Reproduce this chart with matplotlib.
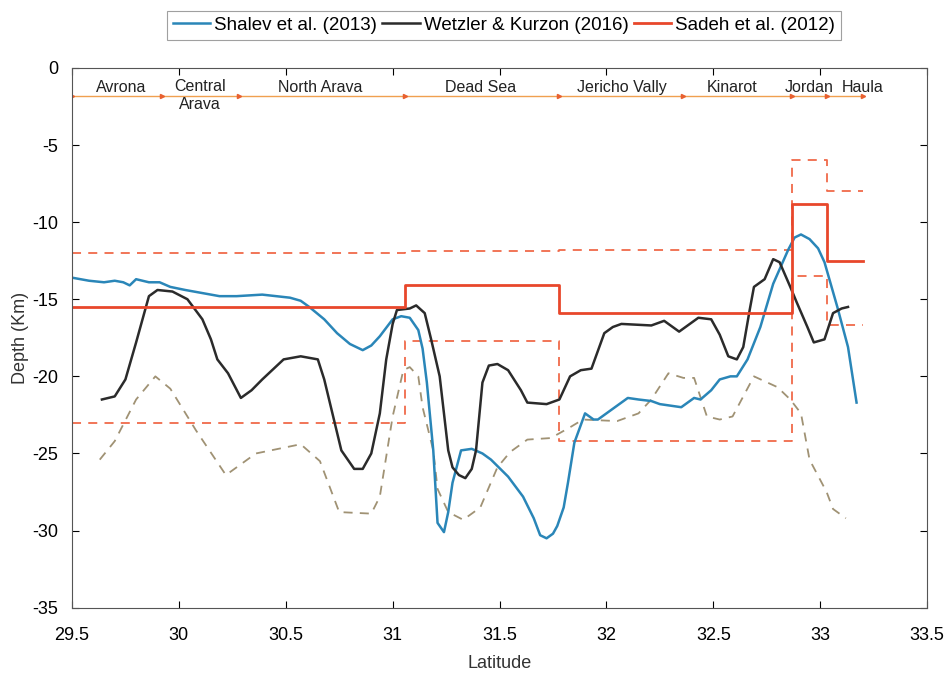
import matplotlib
matplotlib.use("Agg")
import matplotlib.pyplot as plt
import numpy as np

# ---------------- data ----------------
shalev_lat = [29.50, 29.58, 29.65, 29.70, 29.74, 29.77, 29.80, 29.86, 29.91, 29.96, 30.03, 30.11,
              30.19, 30.27, 30.39, 30.52, 30.57, 30.61, 30.68, 30.74, 30.80, 30.86, 30.90, 30.94,
              31.00, 31.04, 31.08, 31.12, 31.14, 31.16, 31.19, 31.21, 31.24, 31.26, 31.28, 31.32,
              31.37, 31.42, 31.46, 31.54, 31.61, 31.66, 31.69, 31.72, 31.75, 31.77, 31.80, 31.82,
              31.85, 31.90, 31.94, 31.96, 32.03, 32.10, 32.15, 32.21, 32.25, 32.35, 32.41, 32.44,
              32.49, 32.53, 32.58, 32.61, 32.66, 32.72, 32.78, 32.85, 32.88, 32.91, 32.95, 32.99,
              33.02, 33.08, 33.13, 33.17]
shalev_dep = [-13.6, -13.8, -13.9, -13.8, -13.9, -14.1, -13.7, -13.9, -13.9, -14.2, -14.4, -14.6,
              -14.8, -14.8, -14.7, -14.9, -15.1, -15.5, -16.3, -17.2, -17.9, -18.3, -18.0, -17.4,
              -16.3, -16.1, -16.2, -17.0, -18.2, -20.4, -24.8, -29.5, -30.1, -28.8, -26.9, -24.8,
              -24.7, -25.0, -25.4, -26.5, -27.8, -29.2, -30.3, -30.5, -30.2, -29.7, -28.5, -26.9,
              -24.3, -22.4, -22.8, -22.8, -22.1, -21.4, -21.5, -21.6, -21.8, -22.0, -21.4, -21.5,
              -20.9, -20.2, -20.0, -20.0, -18.9, -16.8, -14.0, -11.8, -11.0, -10.8, -11.1, -11.7,
              -12.6, -15.5, -18.1, -21.7]

wetzler_lat = [29.64, 29.70, 29.75, 29.80, 29.84, 29.86, 29.90, 29.97, 30.04, 30.11, 30.15, 30.18,
               30.23, 30.29, 30.34, 30.39, 30.49, 30.57, 30.65, 30.68, 30.72, 30.76, 30.82, 30.86,
               30.90, 30.94, 30.97, 31.00, 31.02, 31.08, 31.11, 31.15, 31.18, 31.22, 31.26, 31.28,
               31.31, 31.34, 31.37, 31.39, 31.42, 31.45, 31.49, 31.54, 31.60, 31.63, 31.72, 31.78,
               31.83, 31.88, 31.93, 31.99, 32.03, 32.07, 32.21, 32.27, 32.34, 32.43, 32.49, 32.53,
               32.57, 32.61, 32.64, 32.67, 32.69, 32.74, 32.78, 32.81, 32.86, 32.89, 32.94, 32.97,
               33.02, 33.06, 33.10, 33.13]
wetzler_dep = [-21.5, -21.3, -20.2, -17.8, -15.8, -14.8, -14.4, -14.5, -15.0, -16.3, -17.6, -18.9,
               -19.8, -21.4, -20.9, -20.2, -18.9, -18.7, -18.9, -20.2, -22.5, -24.8, -26.0, -26.0,
               -25.0, -22.4, -18.9, -16.6, -15.7, -15.6, -15.4, -15.9, -17.6, -20.0, -24.8, -25.9,
               -26.4, -26.6, -26.0, -24.8, -20.4, -19.3, -19.2, -19.6, -20.9, -21.7, -21.8, -21.5,
               -20.0, -19.6, -19.5, -17.2, -16.8, -16.6, -16.7, -16.4, -17.1, -16.2, -16.3, -17.3,
               -18.7, -18.9, -18.1, -15.7, -14.2, -13.7, -12.4, -12.6, -14.2, -15.2, -16.8, -17.8,
               -17.6, -15.9, -15.6, -15.5]

wetzler_err_lat = [29.63, 29.70, 29.80, 29.89, 29.96, 30.08, 30.22, 30.36, 30.57, 30.66, 30.75,
                   30.90, 30.94, 31.00, 31.05, 31.08, 31.12, 31.14, 31.19, 31.21, 31.26, 31.33,
                   31.41, 31.49, 31.55, 31.63, 31.74, 31.83, 31.89, 32.05, 32.15, 32.21, 32.29,
                   32.36, 32.41, 32.47, 32.53, 32.59, 32.69, 32.80, 32.86, 32.91, 32.95, 33.03,
                   33.06, 33.12]
wetzler_err_dep = [-25.4, -24.2, -21.5, -20.0, -20.8, -23.5, -26.4, -25.0, -24.4, -25.5, -28.8,
                   -28.9, -27.8, -22.6, -19.6, -19.4, -20.0, -22.0, -24.8, -27.3, -28.8, -29.3,
                   -28.5, -25.9, -24.9, -24.1, -24.0, -23.3, -22.8, -22.9, -22.4, -21.5, -19.8,
                   -20.1, -20.1, -22.6, -22.8, -22.6, -20.0, -20.7, -21.5, -22.4, -25.4, -27.5,
                   -28.6, -29.2]

sadeh_edges = [29.5, 31.06, 31.78, 32.87, 33.03, 33.2]
sadeh_dep = [-15.5, -14.1, -15.9, -8.8, -12.5]
sadeh_upper = [-12.0, -11.9, -11.8, -6.0, -8.0]
sadeh_lower = [-23.0, -17.7, -24.2, -13.5, -16.7]

region_edges = [29.5, 29.92, 30.28, 31.06, 31.78, 32.36, 32.87, 33.03, 33.2]
region_names = ["Avrona", "Central\nArava", "North Arava", "Dead Sea", "Jericho Vally",
                "Kinarot", "Jordan", "Haula"]
region_label_lat = [29.73, 30.1, 30.66, 31.41, 32.07, 32.59, 32.95, 33.2]

xticks = [29.5, 30, 30.5, 31, 31.5, 32, 32.5, 33, 33.5]
xticklabels = ["29.5", "30", "30.5", "31", "31.5", "32", "32.5", "33", "33.5"]
yticks = [0, -5, -10, -15, -20, -25, -30, -35]

# ---------------- plot ----------------
plt.rcParams['font.family'] = ['Liberation Sans', 'DejaVu Sans']
plt.rcParams['axes.unicode_minus'] = False

fig = plt.figure(figsize=(9.47, 6.79), dpi=100)
ax = fig.add_axes([0.076, 0.105, 0.903, 0.795])

def step_xy(edges, vals):
    xs, ys = [], []
    for i, v in enumerate(vals):
        xs += [edges[i], edges[i + 1]]
        ys += [v, v]
    return xs, ys

red = "#e8472b"
dash_red = "#f06a4a"

x, y = step_xy(sadeh_edges, sadeh_upper)
ax.plot(x, y, color=dash_red, lw=1.3, ls=(0, (5, 4)))
x, y = step_xy(sadeh_edges, sadeh_lower)
ax.plot(x, y, color=dash_red, lw=1.3, ls=(0, (5, 4)))

ax.plot(wetzler_err_lat, wetzler_err_dep, color="#a09274", lw=1.3, ls=(0, (5, 4)))

ax.plot(shalev_lat, shalev_dep, color="#2a86b8", lw=1.8, label="Shalev et al. (2013)",
        solid_joinstyle="round")
ax.plot(wetzler_lat, wetzler_dep, color="#2b2b2b", lw=1.8, label="Wetzler & Kurzon (2016)",
        solid_joinstyle="round")
x, y = step_xy(sadeh_edges, sadeh_dep)
ax.plot(x, y, color=red, lw=2.0, label="Sadeh et al. (2012)")

# region strip
ax.plot([region_edges[0], region_edges[-1]], [-1.8, -1.8], color="#f0a050", lw=1.0, zorder=1)
ax.plot(region_edges, [-1.8] * len(region_edges), ls="none", marker=">", ms=3,
        color="#e86030", zorder=1)
for name, lat in zip(region_names, region_label_lat):
    if "\n" in name:
        ax.text(lat, -1.8, name, ha="center", va="center", fontsize=11.5, color="#222222",
                linespacing=1.3)
    else:
        ax.text(lat, -1.3, name, ha="center", va="center", fontsize=11.5, color="#222222")

ax.set_xlim(29.5, 33.5)
ax.set_ylim(-35, 0)
ax.set_xticks(xticks)
ax.set_xticklabels(xticklabels)
ax.set_yticks(yticks)
ax.tick_params(direction="in", top=True, right=True, labelsize=13, length=5)
ax.tick_params(axis="x", pad=14)
ax.tick_params(axis="y", pad=10)
for s in ax.spines.values():
    s.set_color("#555555")
    s.set_linewidth(0.8)
ax.set_xlabel("Latitude", fontsize=13, color="#333333", labelpad=8)
ax.set_ylabel("Depth (Km)", fontsize=13, color="#333333", labelpad=2)

leg = ax.legend(loc="lower center", bbox_to_anchor=(0.505, 1.035), ncol=3, frameon=True,
                fontsize=13.5, handlelength=2.0, handletextpad=0.2, columnspacing=0.3,
                borderpad=0.3, fancybox=False, edgecolor="#888888")
leg.get_frame().set_linewidth(0.8)

fig.savefig("out.png", dpi=100)
